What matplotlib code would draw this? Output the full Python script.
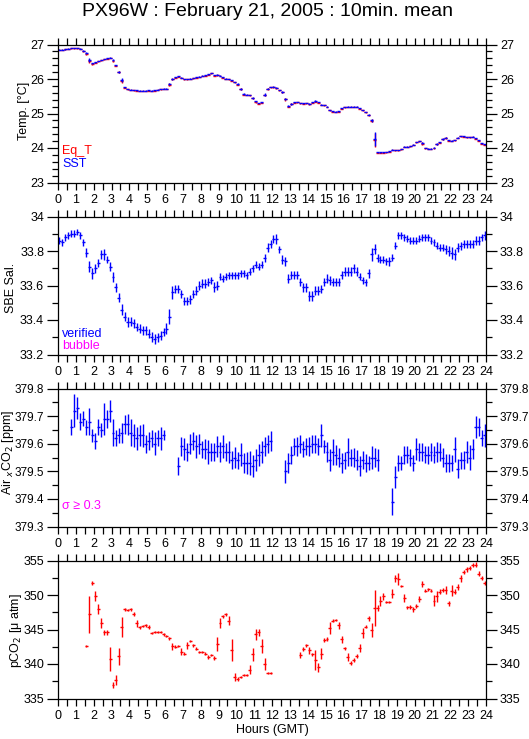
import numpy as np
import matplotlib.pyplot as plt

plt.rcParams['font.family'] = ['Liberation Sans', 'DejaVu Sans']

nan = np.nan

# 10 minute bins over the day (bin centres, hours GMT)
hours = np.arange(144) / 6 + 1 / 12
bin_half = 1 / 12

# --- Temperature ---
sst = [26.85, 26.85, 26.86, 26.88, 26.90, 26.90, 26.90, 26.88, 26.82, 26.75,
       26.55, 26.45, 26.48, 26.52, 26.55, 26.58, 26.60, 26.62, 26.55, 26.40,
       26.20, 25.97, 25.76, 25.71, 25.69, 25.68, 25.67, 25.66, 25.66, 25.66,
       25.67, 25.66, 25.67, 25.69, 25.71, 25.72, 25.72, 25.85, 26.00, 26.05,
       26.08, 26.04, 26.00, 26.00, 26.01, 26.03, 26.05, 26.07, 26.10, 26.11,
       26.14, 26.17, 26.12, 26.13, 26.10, 26.05, 26.01, 26.00, 25.96, 25.91,
       25.86, 25.72, 25.57, 25.55, 25.54, 25.45, 25.35, 25.30, 25.32, 25.55,
       25.72, 25.77, 25.78, 25.75, 25.68, 25.62, 25.42, 25.22, 25.28, 25.32,
       25.33, 25.30, 25.29, 25.30, 25.28, 25.32, 25.36, 25.33, 25.26, 25.25,
       25.20, 25.10, 25.06, 25.05, 25.06, 25.15, 25.19, 25.20, 25.20, 25.20,
       25.20, 25.15, 25.10, 25.04, 24.97, 24.80, 24.25, 23.87, 23.87, 23.87,
       23.88, 23.90, 23.95, 23.94, 23.94, 23.97, 24.04, 24.04, 24.06, 24.10,
       24.17, 24.20, 24.15, 24.00, 23.98, 23.98, 24.01, 24.12, 24.16, 24.26,
       24.30, 24.22, 24.21, 24.23, 24.30, 24.35, 24.34, 24.32, 24.32, 24.33,
       24.28, 24.22, 24.14, 24.11]
sst_err = [0.01, 0.01, 0.01, 0.01, 0.01, 0.01, 0.01, 0.01, 0.02, 0.03,
           0.05, 0.02, 0.01, 0.01, 0.01, 0.01, 0.01, 0.01, 0.02, 0.02,
           0.03, 0.05, 0.02, 0.01, 0.01, 0.01, 0.01, 0.01, 0.01, 0.01,
           0.01, 0.01, 0.01, 0.01, 0.01, 0.01, 0.01, 0.03, 0.02, 0.01,
           0.01, 0.01, 0.01, 0.01, 0.01, 0.01, 0.01, 0.01, 0.01, 0.01,
           0.01, 0.01, 0.01, 0.01, 0.01, 0.01, 0.01, 0.01, 0.01, 0.01,
           0.02, 0.03, 0.02, 0.01, 0.01, 0.02, 0.02, 0.01, 0.02, 0.03,
           0.02, 0.01, 0.01, 0.01, 0.01, 0.02, 0.04, 0.02, 0.02, 0.01,
           0.01, 0.01, 0.01, 0.01, 0.01, 0.01, 0.02, 0.01, 0.01, 0.01,
           0.01, 0.01, 0.01, 0.01, 0.01, 0.01, 0.01, 0.01, 0.01, 0.01,
           0.01, 0.01, 0.01, 0.01, 0.02, 0.04, 0.20, 0.01, 0.01, 0.01,
           0.01, 0.01, 0.01, 0.01, 0.01, 0.01, 0.01, 0.01, 0.01, 0.01,
           0.01, 0.01, 0.03, 0.01, 0.01, 0.01, 0.01, 0.02, 0.01, 0.02,
           0.02, 0.01, 0.01, 0.01, 0.01, 0.01, 0.01, 0.01, 0.01, 0.01,
           0.01, 0.02, 0.01, 0.01]
eq_t = [26.84, 26.84, 26.86, 26.87, 26.89, 26.89, 26.89, 26.87, 26.80, 26.72,
        26.52, 26.43, 26.47, 26.51, 26.54, 26.57, 26.59, 26.61, 26.52, 26.39,
        26.19, 25.94, 25.75, 25.70, 25.68, 25.67, 25.66, 25.65, 25.65, 25.65,
        25.65, 25.65, 25.66, 25.68, 25.70, 25.71, 25.71, 25.84, 25.99, 26.04,
        26.07, 26.03, 25.99, 25.99, 26.00, 26.02, 26.04, 26.06, 26.09, 26.10,
        26.13, 26.16, 26.10, 26.11, 26.09, 26.04, 26.00, 25.99, 25.95, 25.90,
        25.84, 25.70, 25.55, 25.54, 25.53, 25.44, 25.33, 25.28, 25.31, 25.54,
        25.71, 25.76, 25.76, 25.73, 25.67, 25.61, 25.41, 25.20, 25.27, 25.31,
        25.32, 25.29, 25.28, 25.29, 25.27, 25.31, 25.34, 25.31, 25.25, 25.24,
        25.19, 25.09, 25.05, 25.04, 25.05, 25.14, 25.18, 25.19, 25.19, 25.19,
        25.19, 25.14, 25.09, 25.03, 24.95, 24.79, 24.24, 23.86, 23.86, 23.86,
        23.87, 23.89, 23.94, 23.93, 23.93, 23.96, 24.03, 24.03, 24.05, 24.09,
        24.16, 24.19, 24.13, 23.99, 23.97, 23.97, 23.99, 24.11, 24.15, 24.25,
        24.29, 24.21, 24.20, 24.22, 24.29, 24.34, 24.33, 24.31, 24.31, 24.32,
        24.27, 24.21, 24.12, 24.10]

# --- SBE salinity ---
sal = [33.86, 33.85, 33.88, 33.89, 33.90, 33.90, 33.91, 33.89, 33.85, 33.79,
       33.71, 33.67, 33.70, 33.73, 33.78, 33.78, 33.75, 33.71, 33.65, 33.59,
       33.53, 33.46, 33.42, 33.39, 33.39, 33.38, 33.36, 33.35, 33.34, 33.34,
       33.32, 33.30, 33.29, 33.30, 33.31, 33.33, 33.35, 33.42, 33.56, 33.58,
       33.58, 33.55, 33.51, 33.51, 33.52, 33.55, 33.57, 33.60, 33.61, 33.61,
       33.62, 33.63, 33.59, 33.60, 33.65, 33.64, 33.65, 33.66, 33.66, 33.66,
       33.66, 33.67, 33.67, 33.66, 33.68, 33.70, 33.72, 33.71, 33.72, 33.76,
       33.82, 33.84, 33.87, 33.87, 33.81, 33.75, 33.74, 33.64, 33.66, 33.66,
       33.66, 33.62, 33.59, 33.59, 33.54, 33.54, 33.57, 33.57, 33.58, 33.62,
       33.64, 33.63, 33.62, 33.62, 33.62, 33.66, 33.68, 33.68, 33.68, 33.70,
       33.68, 33.65, 33.63, 33.62, 33.67, 33.78, 33.81, 33.76, 33.75, 33.75,
       33.74, 33.74, 33.76, 33.83, 33.89, 33.89, 33.88, 33.87, 33.86, 33.86,
       33.86, 33.87, 33.88, 33.88, 33.88, 33.86, 33.85, 33.83, 33.82, 33.82,
       33.81, 33.80, 33.79, 33.78, 33.82, 33.83, 33.84, 33.84, 33.84, 33.84,
       33.86, 33.86, 33.88, 33.89]
sal_err = [0.02, 0.02, 0.02, 0.02, 0.02, 0.02, 0.02, 0.02, 0.02, 0.025,
           0.03, 0.03, 0.025, 0.025, 0.025, 0.03, 0.02, 0.025, 0.03, 0.025,
           0.025, 0.03, 0.025, 0.03, 0.025, 0.025, 0.025, 0.025, 0.025, 0.025,
           0.025, 0.03, 0.03, 0.025, 0.025, 0.025, 0.03, 0.045, 0.04, 0.025,
           0.025, 0.025, 0.025, 0.025, 0.025, 0.025, 0.025, 0.025, 0.025, 0.025,
           0.025, 0.02, 0.03, 0.025, 0.02, 0.02, 0.02, 0.02, 0.02, 0.02,
           0.02, 0.02, 0.02, 0.02, 0.02, 0.02, 0.02, 0.02, 0.02, 0.025,
           0.025, 0.025, 0.025, 0.03, 0.02, 0.025, 0.025, 0.025, 0.025, 0.025,
           0.025, 0.025, 0.025, 0.025, 0.03, 0.03, 0.025, 0.025, 0.025, 0.025,
           0.025, 0.025, 0.025, 0.025, 0.025, 0.025, 0.025, 0.025, 0.025, 0.025,
           0.025, 0.02, 0.02, 0.02, 0.025, 0.04, 0.03, 0.025, 0.02, 0.02,
           0.02, 0.025, 0.02, 0.02, 0.02, 0.02, 0.02, 0.02, 0.02, 0.02,
           0.02, 0.02, 0.02, 0.02, 0.02, 0.02, 0.02, 0.02, 0.02, 0.02,
           0.025, 0.03, 0.035, 0.03, 0.025, 0.025, 0.025, 0.025, 0.025, 0.025,
           0.025, 0.025, 0.02, 0.025]

# --- Air xCO2 (gaps are standard runs) ---
air_xco2 = [nan, nan, nan, nan,
            379.66, 379.72, 379.73, 379.68, 379.69, 379.66, 379.68, 379.63,
            379.61, 379.66, 379.65, 379.69, 379.69, 379.72, 379.64, 379.62,
            379.63, 379.64, 379.67, 379.67, 379.64, 379.63, 379.62, 379.63,
            379.63, 379.60, 379.61, 379.62, 379.60, 379.62, 379.62, 379.63,
            nan, nan, nan, nan,
            379.52, 379.59, 379.58, 379.57, 379.60, 379.61, 379.59, 379.60,
            379.58, 379.58, 379.57, 379.57, 379.57, 379.59, 379.57, 379.59,
            379.57, 379.57, 379.54, 379.55, 379.54, 379.56, 379.53, 379.53,
            379.53, 379.52, 379.54, 379.56, 379.57, 379.59, 379.60, 379.61,
            nan, nan, nan, nan,
            379.50, 379.53, 379.56, 379.59, 379.59, 379.60, 379.58, 379.59,
            379.59, 379.60, 379.60, 379.59, 379.63, 379.59, 379.57, 379.54,
            379.57, 379.56, 379.55, 379.53, 379.54, 379.57, 379.55, 379.55,
            379.54, 379.52, 379.54, 379.53, 379.53, 379.55, 379.55, 379.54,
            nan, nan, nan, nan,
            379.39, 379.48, 379.53, 379.53, 379.56, 379.56, 379.55, 379.53,
            379.58, 379.57, 379.57, 379.56, 379.56, 379.57, 379.56, 379.57,
            379.57, 379.55, 379.53, 379.53, 379.53, 379.58, 379.51, 379.54,
            379.54, 379.57, 379.55, 379.58, 379.66, 379.66, 379.62, 379.63]
air_err = [nan, nan, nan, nan,
           0.030, 0.060, 0.040, 0.030, 0.027, 0.027, 0.050, 0.024,
           0.029, 0.028, 0.024, 0.057, 0.033, 0.040, 0.050, 0.030,
           0.027, 0.036, 0.034, 0.039, 0.050, 0.042, 0.042, 0.039,
           0.041, 0.032, 0.034, 0.031, 0.041, 0.030, 0.042, 0.018,
           nan, nan, nan, nan,
           0.032, 0.033, 0.039, 0.033, 0.036, 0.033, 0.042, 0.036,
           0.030, 0.036, 0.042, 0.033, 0.033, 0.038, 0.036, 0.042,
           0.033, 0.039, 0.033, 0.039, 0.030, 0.042, 0.036, 0.039,
           0.042, 0.039, 0.039, 0.039, 0.039, 0.036, 0.033, 0.035,
           nan, nan, nan, nan,
           0.041, 0.036, 0.033, 0.030, 0.033, 0.033, 0.029, 0.030,
           0.033, 0.033, 0.033, 0.030, 0.041, 0.024, 0.036, 0.039,
           0.048, 0.036, 0.036, 0.036, 0.030, 0.051, 0.030, 0.033,
           0.036, 0.036, 0.033, 0.033, 0.027, 0.042, 0.033, 0.039,
           nan, nan, nan, nan,
           0.048, 0.039, 0.030, 0.027, 0.033, 0.030, 0.030, 0.030,
           0.039, 0.033, 0.033, 0.030, 0.033, 0.033, 0.030, 0.036,
           0.033, 0.036, 0.033, 0.033, 0.030, 0.045, 0.036, 0.030,
           0.033, 0.039, 0.045, 0.036, 0.040, 0.033, 0.030, 0.042]

# --- pCO2 ---
pco2 = [nan, nan, nan, nan, nan, nan, nan, nan, nan,
        342.6, 347.2, 351.7, 349.9, 348.0, 345.9, 344.6, 344.6, 340.7, 337.0,
        337.7, 341.1, 345.3, 347.9, 347.8, 347.9, 347.3, 345.9, 345.3, 345.5,
        345.6, 345.4, 344.5, 344.6, 344.6, 344.6, 344.3, 344.0, 343.7, 342.6,
        342.5, 342.6, 341.8, 341.5, 342.7, 343.3, 342.7, 342.2, 341.8, 341.7,
        341.5, 341.0, 341.3, 340.9, 342.9, 345.9, 346.9, 347.2, 346.3, 342.0,
        338.1, 337.8, 338.1, 338.4, 338.4, 339.2, 341.4, 344.3, 344.6, 342.6,
        340.0, 338.7, 338.7,
        nan, nan, nan, nan, nan, nan, nan, nan, nan,
        341.3, 342.2, 342.7, 342.0, 341.4, 340.6, 339.5, 341.5, 343.5, 343.6,
        345.2, 346.3, 346.4, 345.6, 343.6, 342.3, 341.0, 340.2, 340.6, 341.2,
        342.3, 344.5, 345.4, 346.6, 344.9, 348.1, 348.1, 349.1, 349.8, 349.0,
        349.0, 350.2, 352.4, 352.3, 351.3, 349.6, 348.2, 348.3, 347.9, 348.4,
        349.4, 351.6, 350.6, 350.8, 350.6, 349.2, 349.8, 350.5, 350.7, 350.7,
        348.8, 350.6, 350.5, 351.2, 352.4, 353.3, 353.7, 353.9, 354.3, 354.4,
        353.1, 352.5, 351.8]
pco2_err = [nan, nan, nan, nan, nan, nan, nan, nan, nan,
            0.15, 2.7, 0.3, 0.7, 0.7, 0.7, 0.35, 0.35, 1.7, 0.45,
            0.7, 1.2, 1.45, 0.2, 0.15, 0.15, 0.3, 0.5, 0.2, 0.2,
            0.2, 0.3, 0.2, 0.15, 0.15, 0.15, 0.2, 0.15, 0.25, 0.5,
            0.2, 0.2, 0.5, 0.25, 0.5, 0.15, 0.25, 0.2, 0.15, 0.15,
            0.2, 0.25, 0.2, 0.25, 1.0, 0.7, 0.2, 0.2, 0.6, 1.6,
            0.6, 0.3, 0.2, 0.15, 0.15, 0.6, 0.9, 0.8, 0.5, 1.0,
            0.8, 0.15, 0.15,
            nan, nan, nan, nan, nan, nan, nan, nan, nan,
            0.5, 0.3, 0.2, 0.5, 0.2, 1.45, 0.6, 0.8, 0.3, 0.3,
            0.85, 0.2, 0.15, 0.5, 0.5, 0.2, 0.55, 0.3, 0.3, 0.3,
            0.55, 0.7, 0.2, 0.3, 1.0, 2.6, 0.4, 0.7, 0.5, 0.15,
            0.15, 0.65, 0.5, 0.85, 0.2, 0.55, 0.2, 0.3, 0.4, 0.3,
            0.45, 0.4, 0.2, 0.2, 0.2, 0.8, 0.85, 0.3, 0.3, 0.55,
            0.4, 0.8, 0.3, 0.45, 0.5, 0.3, 0.3, 0.3, 0.3, 0.4,
            0.4, 0.3, 0.3]

W, H = 529, 739
fig = plt.figure(figsize=(W / 100, H / 100), dpi=100)
fig.text(0.506, 1 - 11 / H, 'PX96W : February 21, 2005 : 10min. mean',
         ha='center', va='center', fontsize=14)

tops = [44.5, 216.5, 388.5, 560.5]
ylims = [(23, 27), (33.2, 34.0), (379.3, 379.8), (335, 355)]
majors = [1, 0.2, 0.1, 5]
minors = [0.2, 0.1, 0.05, 2.5]
ylabels = ['Temp. [°C]', 'SBE Sal.', 'Air $_x$CO$_2$ [ppm]', 'pCO$_2$ [μ atm]']
ylabel_x = [24, 11, 8, 16]
ylabel_y = [111, 288, 452, 631]
tick_fs = [9, 9, 8.5, 9]
fs = 9

axes = []
for k, top in enumerate(tops):
    ax = fig.add_axes([58 / W, 1 - (top + 138) / H, 428 / W, 138 / H])
    ax.set_xlim(0, 24)
    ax.set_ylim(*ylims[k])
    ax.set_xticks(np.arange(0, 25, 1))
    ax.set_xticks(np.arange(0.5, 24, 1), minor=True)
    lo, hi = ylims[k]
    ax.set_yticks(np.arange(lo, hi + 1e-6, majors[k]))
    ax.set_yticks(np.arange(lo, hi + 1e-6, minors[k]), minor=True)
    ax.yaxis.set_major_formatter(plt.FuncFormatter(lambda v, p: '%g' % round(v, 2)))
    ax.tick_params(which='both', direction='out', top=True, right=True,
                   labelright=True, width=0.9)
    ax.tick_params(axis='x', which='both', length=5, pad=3, labelsize=fs)
    ax.tick_params(axis='y', which='major', length=8, pad=2, labelsize=tick_fs[k])
    ax.tick_params(axis='y', which='minor', length=4)
    for s in ax.spines.values():
        s.set_linewidth(0.9)
    fig.text(ylabel_x[k] / W, 1 - ylabel_y[k] / H, ylabels[k], rotation=90,
             ha='center', va='center', fontsize=fs)
    axes.append(ax)

ax1, ax2, ax3, ax4 = axes
eb = dict(fmt='none', capsize=0, elinewidth=1.0)

ax1.errorbar(hours, eq_t, xerr=bin_half, yerr=sst_err, ecolor='red', **eb)
ax1.errorbar(hours, sst, xerr=bin_half, yerr=sst_err, ecolor='blue', **eb)
ax1.text(0.01, 0.21, 'Eq_T', color='red', transform=ax1.transAxes, fontsize=fs)
ax1.text(0.01, 0.11, 'SST', color='blue', transform=ax1.transAxes, fontsize=fs)

ax2.errorbar(hours, sal, xerr=bin_half, yerr=sal_err, ecolor='blue', **eb)
ax2.text(0.01, 0.13, 'verified', color='blue', transform=ax2.transAxes, fontsize=fs)
ax2.text(0.01, 0.04, 'bubble', color='magenta', transform=ax2.transAxes, fontsize=fs)

ax3.errorbar(hours, air_xco2, xerr=bin_half, yerr=air_err, ecolor='blue', **eb)
ax3.text(0.01, 0.13, 'σ ≥ 0.3', color='magenta', transform=ax3.transAxes, fontsize=fs)

ax4.errorbar(hours, pco2, xerr=bin_half, yerr=pco2_err, ecolor='red', **eb)
fig.text(272 / W, 1 - 730 / H, 'Hours (GMT)', ha='center', va='center', fontsize=fs)

plt.savefig('out.png', dpi=100)
